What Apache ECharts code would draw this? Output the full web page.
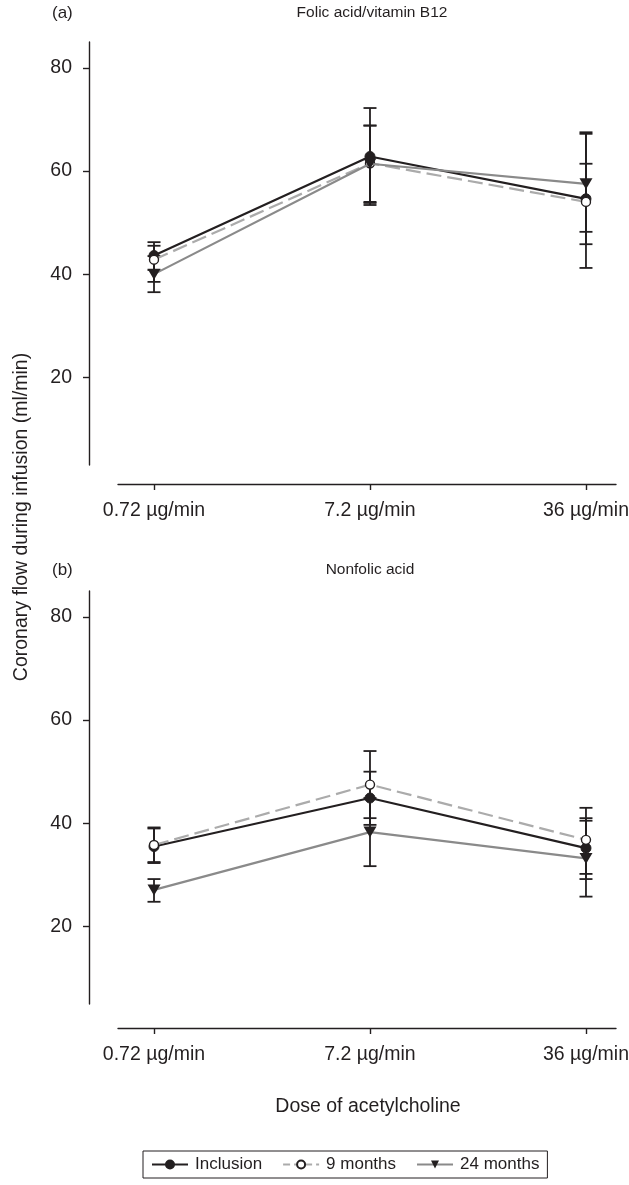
<!DOCTYPE html>
<html>
<head>
<meta charset="utf-8">
<script src="https://cdn.jsdelivr.net/npm/echarts@6/dist/echarts.min.js"></script>
<style>html,body{margin:0;padding:0;background:#fff;}#c{width:629px;height:1185px;}</style>
</head>
<body>
<div id="c"></div>
<script>
// ---- data ----
const categories = ['0.72 µg/min', '7.2 µg/min', '36 µg/min'];
const yTicks = [20, 40, 60, 80];
const seriesNames = ['Inclusion', '9 months', '24 months'];

// (a) Folic acid/vitamin B12
const folicInclusion = [43.6, 62.8, 54.6];
const folicInclusionLow = [40.8, 53.4, 41.2];
const folicInclusionHigh = [46.2, 72.2, 67.5];
const folic9m = [42.8, 61.5, 54.0];
const folic9mLow = [38.5, 54.0, 45.8];
const folic9mHigh = [45.5, 68.8, 61.4];
const folic24m = [40.0, 61.4, 57.5];
const folic24mLow = [36.5, 53.8, 48.2];
const folic24mHigh = [43.5, 68.8, 67.2];

// (b) Nonfolic acid
const nonInclusion = [35.5, 44.9, 35.2];
const nonInclusionLow = [32.3, 39.7, 29.2];
const nonInclusionHigh = [39.0, 50.0, 41.0];
const non9m = [35.8, 47.5, 36.8];
const non9mLow = [32.5, 41.0, 30.2];
const non9mHigh = [39.2, 54.0, 43.0];
const non24m = [27.1, 38.3, 33.2];
const non24mLow = [24.8, 31.7, 25.8];
const non24mHigh = [29.2, 44.9, 40.5];

// ---- helpers ----
const INK = '#231f20';
const FONT = "'Liberation Sans', Arial, Helvetica, sans-serif";
const pts = vals => vals.map((v, i) => [i, v]);
const bars = (lo, hi) => lo.map((l, i) => [i, l, hi[i]]);

const styles = [
  { color: INK, lineStyle: { color: INK, width: 2.2, type: 'solid' }, symbol: 'circle', symbolSize: 10,
    itemStyle: { color: INK, borderColor: INK, borderWidth: 1 } },
  { color: '#ababab', lineStyle: { color: '#ababab', width: 2.2, type: [15, 6] }, symbol: 'circle', symbolSize: 9,
    itemStyle: { color: '#ffffff', borderColor: INK, borderWidth: 1.4 } },
  { color: '#8a8a8a', lineStyle: { color: '#8a8a8a', width: 2.2, type: 'solid' }, symbol: 'triangle', symbolSize: [13, 11], symbolRotate: 180,
    itemStyle: { color: INK, borderColor: INK, borderWidth: 0 } }
];

function errSeries(gridIdx, lo, hi) {
  return {
    type: 'custom', xAxisIndex: gridIdx, yAxisIndex: gridIdx, silent: true, z: 1,
    data: bars(lo, hi),
    renderItem: function (params, api) {
      const x = api.value(0);
      const p1 = api.coord([x, api.value(1)]);
      const p2 = api.coord([x, api.value(2)]);
      const w = 6.5;
      const st = { stroke: INK, lineWidth: 1.8 };
      return { type: 'group', children: [
        { type: 'line', shape: { x1: p1[0], y1: p1[1], x2: p2[0], y2: p2[1] }, style: st },
        { type: 'line', shape: { x1: p1[0] - w, y1: p1[1], x2: p1[0] + w, y2: p1[1] }, style: st },
        { type: 'line', shape: { x1: p2[0] - w, y1: p2[1], x2: p2[0] + w, y2: p2[1] }, style: st }
      ]};
    }
  };
}

function lineSeries(gridIdx, k, vals) {
  const s = styles[k];
  return Object.assign({
    type: 'line', name: seriesNames[k], xAxisIndex: gridIdx, yAxisIndex: gridIdx,
    data: pts(vals), z: 3 + k, showAllSymbol: true, animation: false
  }, JSON.parse(JSON.stringify(s)));
}

const axisText = { color: INK, fontSize: 19.5, fontFamily: FONT };

function xAxis(gridIdx, off) {
  return {
    type: 'value', gridIndex: gridIdx, min: -0.1667, max: 2.139, offset: off,
    axisLine: { show: true, onZero: false, lineStyle: { color: INK, width: 1.4 } },
    axisTick: { show: true, customValues: [0, 1, 2], length: 6, lineStyle: { color: INK, width: 1.4 } },
    axisLabel: Object.assign({ customValues: [0, 1, 2], margin: 17, formatter: v => categories[Math.round(v)] }, axisText),
    splitLine: { show: false }
  };
}
function yAxis(gridIdx, min) {
  return {
    type: 'value', gridIndex: gridIdx, min: min, max: 85, offset: 29,
    axisLine: { show: true, onZero: false, lineStyle: { color: INK, width: 1.4 } },
    axisTick: { show: true, customValues: yTicks, length: 6, lineStyle: { color: INK, width: 1.4 } },
    axisLabel: Object.assign({ customValues: yTicks, margin: 17 }, axisText),
    splitLine: { show: false }
  };
}

const chart = echarts.init(document.getElementById('c'), null, { renderer: 'canvas' });
chart.setOption({
  animation: false,
  backgroundColor: '#fff',
  textStyle: { fontFamily: FONT, color: INK },
  grid: [
    { left: 118, top: 42, width: 498, height: 423, containLabel: false, outerBoundsMode: 'none' },
    { left: 118, top: 591, width: 498, height: 413, containLabel: false, outerBoundsMode: 'none' }
  ],
  xAxis: [xAxis(0, 19), xAxis(1, 24)],
  yAxis: [yAxis(0, 3), yAxis(1, 5)],
  legend: {
    data: [
      { name: seriesNames[0] },
      { name: seriesNames[1], lineStyle: { type: [7, 4] } },
      { name: seriesNames[2] }
    ],
    left: 143, top: 1151, orient: 'horizontal',
    itemWidth: 36, itemHeight: 10, itemGap: 20,
    borderColor: INK, borderWidth: 1, borderRadius: 0, padding: [5, 8, 5, 8],
    textStyle: { color: INK, fontSize: 17, fontFamily: FONT, padding: [0, 0, 0, 2] }
  },
  graphic: [
    { type: 'text', x: 52, y: 13, style: { text: '(a)', fill: INK, font: '17px ' + FONT, verticalAlign: 'middle' } },
    { type: 'text', x: 372, y: 13, style: { text: 'Folic acid/vitamin B12', fill: INK, font: '15.5px ' + FONT, align: 'center', verticalAlign: 'middle' } },
    { type: 'text', x: 52, y: 570, style: { text: '(b)', fill: INK, font: '17px ' + FONT, verticalAlign: 'middle' } },
    { type: 'text', x: 370, y: 570, style: { text: 'Nonfolic acid', fill: INK, font: '15.5px ' + FONT, align: 'center', verticalAlign: 'middle' } },
    { type: 'text', x: 22, y: 517, rotation: Math.PI / 2, style: { text: 'Coronary flow during infusion (ml/min)', fill: INK, font: '19.5px ' + FONT, align: 'center', verticalAlign: 'middle' } },
    { type: 'text', x: 368, y: 1107, style: { text: 'Dose of acetylcholine', fill: INK, font: '19.5px ' + FONT, align: 'center', verticalAlign: 'middle' } }
  ],
  series: [
    errSeries(0, folicInclusionLow, folicInclusionHigh),
    errSeries(0, folic9mLow, folic9mHigh),
    errSeries(0, folic24mLow, folic24mHigh),
    errSeries(1, nonInclusionLow, nonInclusionHigh),
    errSeries(1, non9mLow, non9mHigh),
    errSeries(1, non24mLow, non24mHigh),
    lineSeries(0, 0, folicInclusion),
    lineSeries(0, 1, folic9m),
    lineSeries(0, 2, folic24m),
    lineSeries(1, 0, nonInclusion),
    lineSeries(1, 1, non9m),
    lineSeries(1, 2, non24m)
  ]
});
</script>
</body>
</html>
